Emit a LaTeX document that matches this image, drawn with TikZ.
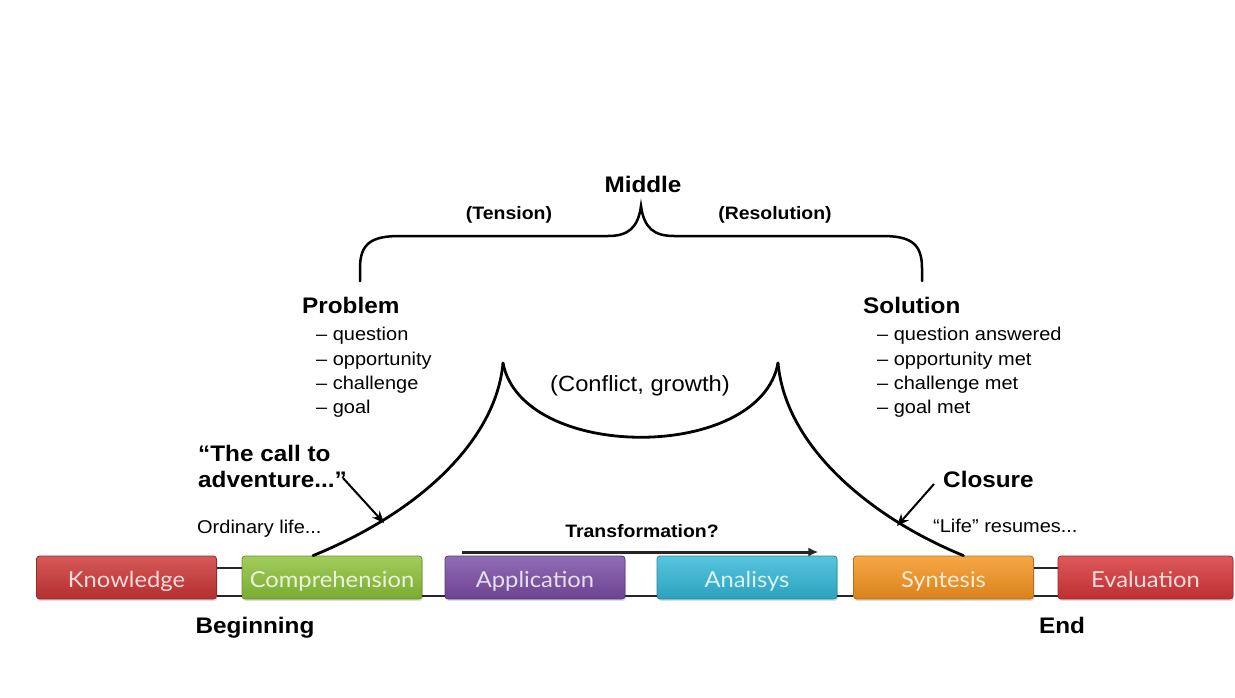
\documentclass[tikz,border=0pt]{standalone}
\usepackage{fontspec}
\setmainfont[FakeStretch=1.08]{Liberation Sans}
\newfontfamily\boxfont[FakeStretch=1.08]{Lato}
\usetikzlibrary{arrows.meta,shadows,calc}

\definecolor{cKnow}{RGB}{205,52,52}
\definecolor{cComp}{RGB}{140,194,56}
\definecolor{cAppl}{RGB}{122,76,165}
\definecolor{cAnal}{RGB}{50,184,215}
\definecolor{cSynt}{RGB}{246,148,30}
\definecolor{cEval}{RGB}{215,52,56}

\begin{document}
\begin{tikzpicture}[x=1pt,y=-1pt,
  stage/.style={minimum width=180pt, minimum height=43pt, rounded corners=3pt,
    inner sep=0pt, font=\boxfont\fontsize{22}{22}\selectfont,
    text height=20pt, text depth=1pt,
    draw=#1!75!black, line width=0.8pt,
    top color=#1!82!white, bottom color=#1!88!black, text=#1!18!white,
    drop shadow={shadow xshift=1pt, shadow yshift=-2pt, opacity=0.25}},
  rail/.style={line width=2.4pt, draw=black!85},
  curve/.style={line width=2.8pt, line cap=round},
  pointer/.style={line width=2pt, -{Stealth[length=12pt,width=10pt]}},
  big/.style={font=\bfseries\fontsize{22.5}{26}\selectfont, inner sep=0pt},
  head/.style={font=\bfseries\fontsize{18}{22}\selectfont, inner sep=0pt},
  item/.style={font=\fontsize{18.5}{24}\selectfont, inner sep=0pt, anchor=base west},
  plain/.style={font=\fontsize{18.5}{24}\selectfont, inner sep=0pt}
]
\useasboundingbox (0,0) rectangle (1235,697);
\fill[white] (0,0) rectangle (1235,697);

% Bloom stages along the bottom
\node[stage=cKnow] (know) at (126.5,577.5) {Knowledge};
\node[stage=cComp] (comp) at (332,577.5) {Comprehension};
\node[stage=cAppl] (app)  at (535,577.5) {Application};
\node[stage=cAnal] (ana)  at (747,577.5) {Analisys};
\node[stage=cSynt] (syn)  at (943.5,577.5) {Syntesis};
\node[stage=cEval, minimum width=175pt] (eval) at (1145.5,577.5) {Evaluation};

% rails linking the stages
\coordinate (lo) at (0,596);
\coordinate (hi) at (0,568);
\draw[rail] (know.east |- lo) -- (comp.west |- lo);
\draw[rail] (comp.east |- lo) -- (app.west |- lo);
\draw[rail] (app.east |- lo) -- (ana.west |- lo);
\draw[rail] (ana.east |- lo) -- (syn.west |- lo);
\draw[rail] (syn.east |- lo) -- (eval.west |- lo);
\draw[rail] (know.east |- hi) -- (comp.west |- hi);
\draw[rail] (syn.east |- hi) -- (eval.west |- hi);

% transformation arrow over the middle stages
\coordinate (tr) at (0,552);
\draw[line width=3pt, draw=black!85, -{Latex[length=10pt,width=9pt]}]
  ($(app.west |- tr)+(17,0)$) -- ($(ana.east |- tr)+(-19,0)$);
\node[head, anchor=base] (trans) at (642,537) {Transformation?};

% story arc
\coordinate (cl) at (503,363);
\coordinate (cr) at (778,363);
\draw[curve] ($(comp.north)+(-19,0)$) .. controls (420,512) and (496,440) .. (cl);
\draw[curve] (cl) .. controls (522,462) and (760,462) .. (cr);
\draw[curve] (cr) .. controls (786,450) and (876,520) .. ($(syn.north)+(20,0)$);

% brace over the middle
\coordinate (bl) at (360,281);
\coordinate (br) at (922,281);
\coordinate (tip) at (641,206);
\draw[curve, line width=2.5pt] (bl) -- (360,268) .. controls (360,243) and (372,236) .. (400,236)
  -- (608,236) .. controls (628,236) and (638,228) .. (tip)
  .. controls (644,228) and (654,236) .. (674,236)
  -- (882,236) .. controls (910,236) and (922,243) .. (922,268) -- (br);

\node[big, anchor=base] (middle) at (643,192) {Middle};
\node[head, anchor=base] (tension) at (509,219) {(Tension)};
\node[head, anchor=base] (resol) at (775,219) {(Resolution)};

% problem side
\node[big, anchor=base west] (prob) at (302,313) {Problem};
\node[item] (p1) at (316,340) {– question};
\node[item] (p2) at (316,365) {– opportunity};
\node[item] (p3) at (316,389) {– challenge};
\node[item] (p4) at (316,413) {– goal};

% solution side
\node[big, anchor=base west] (sol) at (863,313) {Solution};
\node[item] (s1) at (877,340) {– question answered};
\node[item] (s2) at (877,365) {– opportunity met};
\node[item] (s3) at (877,389) {– challenge met};
\node[item] (s4) at (877,413) {– goal met};

\node[plain, font=\fontsize{22}{26}\selectfont, anchor=base] (conf) at (640,391) {(Conflict, growth)};

% beginning of the story
\node[big, anchor=base west] (call1) at (198,461) {“The call to};
\node[big, anchor=base west] (call2) at (198,487) {adventure...”};
\node[plain, anchor=base west] (ord) at (197,533) {Ordinary life...};
\coordinate (callfrom) at (343,478);
\coordinate (callto) at (384,523);
\draw[pointer] (callfrom) -- (callto);

% end of the story
\node[big, anchor=base west] (clos) at (943,487) {Closure};
\node[plain, anchor=base west] (life) at (933,532) {“Life” resumes...};
\coordinate (closfrom) at (934,484);
\coordinate (closto) at (897,526);
\draw[pointer] (closfrom) -- (closto);

\node[big, anchor=base] (beg) at (255,633) {Beginning};
\node[big, anchor=base] (end) at (1062,633) {End};
\end{tikzpicture}
\end{document}
